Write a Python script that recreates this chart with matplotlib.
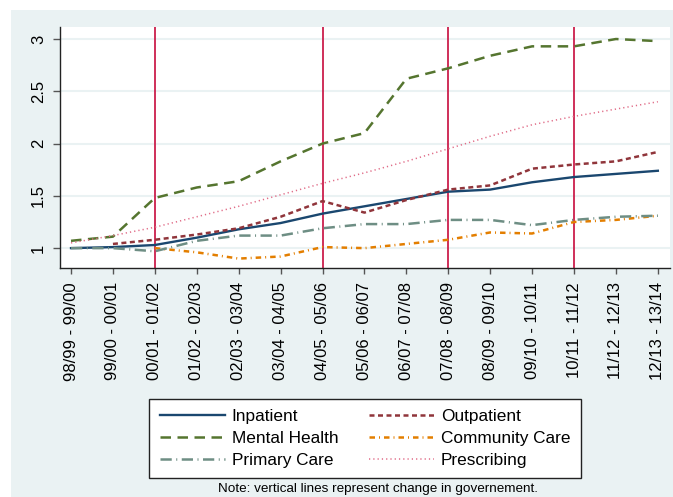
import numpy as np
import matplotlib
matplotlib.use("Agg")
import matplotlib.pyplot as plt
from matplotlib.patches import Rectangle

plt.rcParams['font.family'] = ['Liberation Sans', 'DejaVu Sans']

periods = ["98/99 - 99/00", "99/00 - 00/01", "00/01 - 01/02", "01/02 - 02/03",
           "02/03 - 03/04", "03/04 - 04/05", "04/05 - 05/06", "05/06 - 06/07",
           "06/07 - 07/08", "07/08 - 08/09", "08/09 - 09/10", "09/10 - 10/11",
           "10/11 - 11/12", "11/12 - 12/13", "12/13 - 13/14"]
nan = np.nan
inpatient = [1.00, 1.01, 1.03, 1.10, 1.18, 1.24, 1.33, 1.40, 1.47, 1.54, 1.56, 1.63, 1.68, 1.71, 1.74]
outpatient = [nan, 1.04, 1.08, 1.13, 1.19, 1.30, 1.45, 1.34, 1.46, 1.56, 1.60, 1.76, 1.80, 1.83, 1.92]
mental_health = [1.07, 1.11, 1.48, 1.58, 1.64, 1.83, 2.00, 2.10, 2.62, 2.72, 2.84, 2.93, 2.93, 3.00, 2.98]
community_care = [nan, nan, 1.00, 0.96, 0.90, 0.92, 1.01, 1.00, 1.04, 1.08, 1.15, 1.14, 1.25, 1.27, 1.31]
primary_care = [1.00, 1.00, 0.97, 1.07, 1.12, 1.12, 1.19, 1.23, 1.23, 1.27, 1.27, 1.22, 1.27, 1.30, 1.31]
prescribing = [1.05, 1.12, 1.20, 1.30, 1.40, 1.51, 1.62, 1.72, 1.83, 1.95, 2.07, 2.18, 2.26, 2.33, 2.40]
govt_change = [2, 6, 9, 12]
yticks = [1, 1.5, 2, 2.5, 3]
ytick_labels = ["1", "1.5", "2", "2.5", "3"]

W, H = 673, 497
fig = plt.figure(figsize=(W / 100, H / 100), dpi=100, facecolor="white")
# stata style graph region, behind everything
fig.patches.append(Rectangle((10.5 / W, 0), 1, 1 - 10 / H, transform=fig.transFigure,
                             facecolor="#eaf2f3", edgecolor="none", zorder=-10))

ax = fig.add_axes([60 / W, 1 - 268 / H, 610 / W, 241 / H])
ax.set_facecolor("white")

x = np.arange(len(periods))
for g in govt_change:
    ax.axvline(g, color="#cc1f4c", lw=1.3, zorder=1)

series = [
    ("Inpatient", inpatient, dict(color="#1a476f", lw=1.7, ls="-")),
    ("Outpatient", outpatient, dict(color="#90353b", lw=1.8, ls=(0, (2.0, 1.4)))),
    ("Mental Health", mental_health, dict(color="#55752f", lw=1.8, ls=(0, (4.2, 2.6)))),
    ("Community Care", community_care, dict(color="#e37e00", lw=1.8, ls=(0, (2.2, 1.6, 0.4, 1.6)))),
    ("Primary Care", primary_care, dict(color="#6e8e84", lw=1.8, ls=(0, (4.5, 1.8, 0.4, 1.8)))),
    ("Prescribing", prescribing, dict(color="#e06a86", lw=1.1, ls=(0, (0.8, 2.0)))),
]
handles = {}
for name, vals, style in series:
    h, = ax.plot(x, vals, label=name, zorder=3, **style)
    handles[name] = h

ax.set_xlim(-0.263, 14.29)
ax.set_ylim(0.81, 3.115)
ax.set_yticks(yticks)
ax.set_yticklabels(ytick_labels, rotation=90, va="center", fontsize=12)
ax.set_xticks(x)
ax.set_xticklabels(periods, rotation=90, fontsize=12)
ax.yaxis.grid(True, color="#eaf2f3", lw=1.5)
ax.set_axisbelow(True)
for s in ["top", "right"]:
    ax.spines[s].set_visible(False)
for s in ["left", "bottom"]:
    ax.spines[s].set_color("#222222")
    ax.spines[s].set_linewidth(1.0)
ax.tick_params(axis="y", length=5, width=1, color="#555555", pad=5)
ax.tick_params(axis="x", length=4, width=1, color="#555555", pad=6)

order = ["Inpatient", "Mental Health", "Primary Care", "Outpatient", "Community Care", "Prescribing"]
leg = fig.legend([handles[n] for n in order], order, ncol=2, loc="center",
                 bbox_to_anchor=(365 / W, 1 - 438.5 / H), fontsize=12.4,
                 handlelength=3.8, handletextpad=0.4, columnspacing=1.75,
                 labelspacing=0.4, borderpad=0.6, fancybox=False, framealpha=1,
                 edgecolor="#222222")
leg.get_frame().set_linewidth(1.0)

fig.text(378 / W, 1 - 489 / H, "Note: vertical lines represent change in governement.",
         ha="center", va="center", fontsize=9.7)

fig.savefig("out.png", dpi=100, facecolor=fig.get_facecolor())
